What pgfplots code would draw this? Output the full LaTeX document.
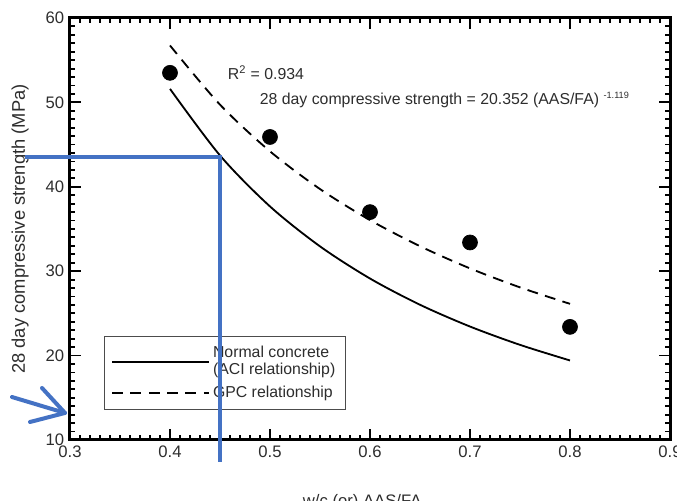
\documentclass[border=0pt]{standalone}
\usepackage{pgfplots}
\pgfplotsset{compat=1.18}
\usepackage{fontspec}
\setmainfont{Liberation Sans}
\definecolor{annblue}{RGB}{68,114,196}
\definecolor{txt}{RGB}{45,45,45}
\begin{document}
\begin{tikzpicture}
\begin{axis}[
  scale only axis, width=360pt, height=253.2pt,
  xmin=0.3, xmax=0.9, ymin=10, ymax=60,
  xtick={0.3,0.4,0.5,0.6,0.7,0.8,0.9}, ytick={10,20,30,40,50,60},
  minor x tick num=9, minor y tick num=9,
  tick style={black, line width=1.1pt},
  major tick length=6.5pt,
  axis line style={line width=1.8pt},
  /pgf/number format/assume math mode=true,
  xticklabel style={/pgf/number format/fixed, /pgf/number format/fixed zerofill, /pgf/number format/precision=1, font=\fontsize{10}{12}\selectfont, text=txt},
  yticklabel style={font=\fontsize{10}{12}\selectfont, text=txt},
  xlabel={w/c (or) AAS/FA},
  xlabel style={at={(axis description cs:0.487,-0.148)}, anchor=center, font=\fontsize{10}{12}\selectfont, text=txt},
  ylabel={28 day compressive strength (MPa)},
  ylabel style={at={(axis description cs:-0.083,0.5)}, anchor=center, font=\fontsize{11}{13}\selectfont, text=txt},
  legend image code/.code={\draw[#1] (0pt,0pt) -- (58pt,0pt);},
  legend style={at={(axis description cs:0.057,0.071)}, anchor=south west,
    draw=gray!60!black, fill=white,
    font=\fontsize{9.5}{10.5}\selectfont, text=txt,
    cells={anchor=west, align=left}, inner xsep=4pt, inner ysep=4pt,
    row sep=1pt, /tikz/every even column/.append style={column sep=3pt}},
]
\coordinate (bbsw) at (axis cs:0.23,2.77);
\coordinate (bbne) at (axis cs:0.907,62.13);
\coordinate (h1) at (axis cs:0.255,43.53);
\coordinate (h2) at (axis cs:0.45,43.53);
\coordinate (h3) at (axis cs:0.45,7.39);
\coordinate (a1) at (axis cs:0.242,15.09);
\coordinate (a2) at (axis cs:0.295,13.20);
\coordinate (a3) at (axis cs:0.272,16.16);
\coordinate (a4) at (axis cs:0.260,12.13);

% ACI relationship (normal concrete)
\addplot[black, line width=1.1pt, smooth] coordinates {
 (0.40,51.6) (0.45,43.71) (0.50,37.67) (0.55,32.94) (0.60,29.13)
 (0.65,26.02) (0.70,23.44) (0.75,21.27) (0.80,19.42)};
\addlegendentry{Normal concrete\\(ACI relationship)}

% GPC relationship
\addplot[black, line width=1.1pt, dash pattern=on 6.5pt off 4.5pt, smooth] coordinates {
 (0.40,56.74) (0.45,49.73) (0.50,44.20) (0.55,39.73) (0.60,36.05)
 (0.65,32.96) (0.70,30.33) (0.75,28.08) (0.80,26.13)};
\addlegendentry{GPC relationship}

% measured data
\addplot[only marks, mark=*, mark size=4.5pt, black, forget plot] coordinates {
 (0.4,53.5) (0.5,45.9) (0.6,37.0) (0.7,33.4) (0.8,23.4)};

\node[anchor=west, font=\fontsize{9.5}{11}\selectfont, text=txt] at (axis cs:0.452,53.5) {R\textsuperscript{2} = 0.934};
\node[anchor=west, font=\fontsize{9.5}{11}\selectfont, text=txt] at (axis cs:0.484,50.3) {28 day compressive strength = 20.352 (AAS/FA) \raisebox{0.8ex}{\fontsize{5.5}{6}\selectfont -1.119}};
\end{axis}
% blue annotation lines (drawn over the legend)
\draw[annblue, line width=2.4pt] (h1) -- (h2) -- (h3);
\draw[annblue, line width=2.4pt, line cap=round] (a1) -- (a2);
\draw[annblue, line width=2.4pt, line cap=round, line join=round] (a3) -- (a2) -- (a4);
\pgfresetboundingbox
\useasboundingbox (bbsw) rectangle (bbne);
\end{tikzpicture}
\end{document}
